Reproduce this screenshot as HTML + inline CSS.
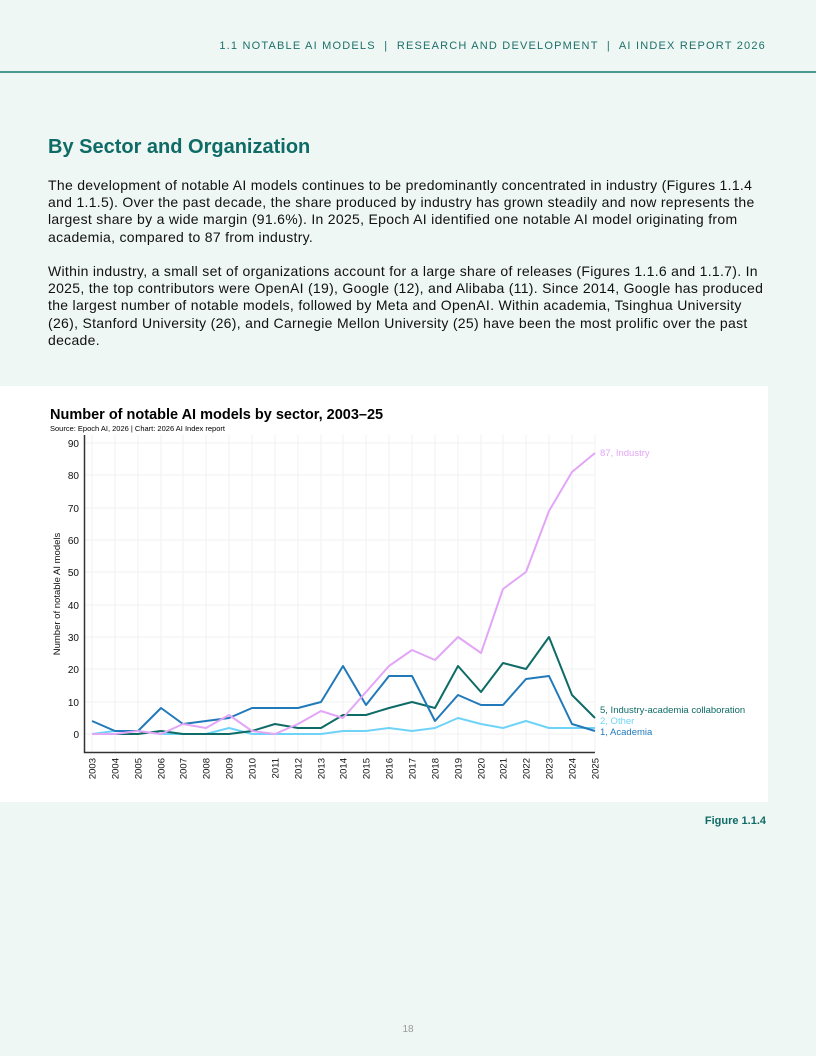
<!DOCTYPE html>
<html><head><meta charset="utf-8"><style>
body{margin:0;width:816px;height:1056px;background:#eef7f3;font-family:"Liberation Sans",sans-serif;position:relative;overflow:hidden}
.hdr{position:absolute;right:50px;top:40px;font-size:11px;letter-spacing:1.2px;color:#1e6f6a}
.line{position:absolute;left:0;top:71px;width:816px;height:2px;background:#4a9a92}
h2{position:absolute;left:48px;top:136px;margin:0;font-size:20px;color:#0f6b66;font-weight:bold}
.p{position:absolute;left:48px;font-size:14px;line-height:17.2px;color:#111;white-space:nowrap;letter-spacing:0.3px}
.panel{position:absolute;left:0;top:386px;width:768px;height:416px;background:#fff}
.fig{position:absolute;right:50px;top:815px;font-size:11px;font-weight:bold;color:#0f6b66}
.pg{position:absolute;left:0;width:816px;top:1024px;text-align:center;font-size:10px;color:#999}
</style></head><body>
<div class="hdr">1.1 NOTABLE AI MODELS &nbsp;|&nbsp; RESEARCH AND DEVELOPMENT &nbsp;|&nbsp; AI INDEX REPORT 2026</div>
<div class="line"></div>
<h2>By Sector and Organization</h2>
<div class="p" style="top:177px">The development of notable AI models continues to be predominantly concentrated in industry (Figures 1.1.4<br>and 1.1.5). Over the past decade, the share produced by industry has grown steadily and now represents the<br>largest share by a wide margin (91.6%). In 2025, Epoch AI identified one notable AI model originating from<br>academia, compared to 87 from industry.</div>
<div class="p" style="top:263px">Within industry, a small set of organizations account for a large share of releases (Figures 1.1.6 and 1.1.7). In<br>2025, the top contributors were OpenAI (19), Google (12), and Alibaba (11). Since 2014, Google has produced<br>the largest number of notable models, followed by Meta and OpenAI. Within academia, Tsinghua University<br>(26), Stanford University (26), and Carnegie Mellon University (25) have been the most prolific over the past<br>decade.</div>
<div class="panel"></div>
<svg width="816" height="1056" style="position:absolute;left:0;top:0" font-family="Liberation Sans, sans-serif">
<text x="50" y="419" font-size="14.5" font-weight="bold" fill="#000">Number of notable AI models by sector, 2003–25</text>
<text x="50" y="431" font-size="7.5" fill="#000">Source: Epoch AI, 2026 | Chart: 2026 AI Index report</text>
<g stroke="#f2f2f2" stroke-width="1">
<line x1="85" x2="595" y1="443" y2="443"/><line x1="85" x2="595" y1="475" y2="475"/><line x1="85" x2="595" y1="508" y2="508"/><line x1="85" x2="595" y1="540" y2="540"/><line x1="85" x2="595" y1="572" y2="572"/><line x1="85" x2="595" y1="605" y2="605"/><line x1="85" x2="595" y1="637" y2="637"/><line x1="85" x2="595" y1="669" y2="669"/><line x1="85" x2="595" y1="702" y2="702"/><line x1="85" x2="595" y1="734" y2="734"/>
<line x1="92" x2="92" y1="435" y2="752"/><line x1="115" x2="115" y1="435" y2="752"/><line x1="138" x2="138" y1="435" y2="752"/><line x1="161" x2="161" y1="435" y2="752"/><line x1="183" x2="183" y1="435" y2="752"/><line x1="206" x2="206" y1="435" y2="752"/><line x1="229" x2="229" y1="435" y2="752"/><line x1="252" x2="252" y1="435" y2="752"/><line x1="275" x2="275" y1="435" y2="752"/><line x1="298" x2="298" y1="435" y2="752"/><line x1="321" x2="321" y1="435" y2="752"/><line x1="343" x2="343" y1="435" y2="752"/><line x1="366" x2="366" y1="435" y2="752"/><line x1="389" x2="389" y1="435" y2="752"/><line x1="412" x2="412" y1="435" y2="752"/><line x1="435" x2="435" y1="435" y2="752"/><line x1="458" x2="458" y1="435" y2="752"/><line x1="481" x2="481" y1="435" y2="752"/><line x1="503" x2="503" y1="435" y2="752"/><line x1="526" x2="526" y1="435" y2="752"/><line x1="549" x2="549" y1="435" y2="752"/><line x1="572" x2="572" y1="435" y2="752"/><line x1="595" x2="595" y1="435" y2="752"/>
</g>
<polyline fill="none" stroke="#333" stroke-width="1.5" points="84.5,435 84.5,752.5 595,752.5"/>
<g font-size="10" fill="#111" text-anchor="end">
<text x="79" y="447">90</text><text x="79" y="479">80</text><text x="79" y="512">70</text><text x="79" y="544">60</text><text x="79" y="576">50</text><text x="79" y="609">40</text><text x="79" y="641">30</text><text x="79" y="673">20</text><text x="79" y="706">10</text><text x="79" y="738">0</text>
</g>
<text transform="translate(60,594) rotate(-90)" font-size="9.5" fill="#111" text-anchor="middle">Number of notable AI models</text>
<g font-size="9.5" fill="#111" text-anchor="end">
<text transform="translate(95.5,758) rotate(-90)">2003</text><text transform="translate(118.5,758) rotate(-90)">2004</text><text transform="translate(141.5,758) rotate(-90)">2005</text><text transform="translate(164.5,758) rotate(-90)">2006</text><text transform="translate(186.5,758) rotate(-90)">2007</text><text transform="translate(209.5,758) rotate(-90)">2008</text><text transform="translate(232.5,758) rotate(-90)">2009</text><text transform="translate(255.5,758) rotate(-90)">2010</text><text transform="translate(278.5,758) rotate(-90)">2011</text><text transform="translate(301.5,758) rotate(-90)">2012</text><text transform="translate(324.5,758) rotate(-90)">2013</text><text transform="translate(346.5,758) rotate(-90)">2014</text><text transform="translate(369.5,758) rotate(-90)">2015</text><text transform="translate(392.5,758) rotate(-90)">2016</text><text transform="translate(415.5,758) rotate(-90)">2017</text><text transform="translate(438.5,758) rotate(-90)">2018</text><text transform="translate(461.5,758) rotate(-90)">2019</text><text transform="translate(484.5,758) rotate(-90)">2020</text><text transform="translate(506.5,758) rotate(-90)">2021</text><text transform="translate(529.5,758) rotate(-90)">2022</text><text transform="translate(552.5,758) rotate(-90)">2023</text><text transform="translate(575.5,758) rotate(-90)">2024</text><text transform="translate(598.5,758) rotate(-90)">2025</text>
</g>
<g fill="none" stroke-width="2" stroke-linejoin="round">
<polyline stroke="#6fd3f8" points="92,734 115,731 138,731 161,734 183,734 206,734 229,728 252,734 275,734 298,734 321,734 343,731 366,731 389,728 412,731 435,728 458,718 481,724 503,728 526,721 549,728 572,728 595,728"/>
<polyline stroke="#0f6b66" points="92,734 115,734 138,734 161,731 183,734 206,734 229,734 252,731 275,724 298,728 321,728 343,715 366,715 389,708 412,702 435,708 458,666 481,692 503,663 526,669 549,637 572,695 595,718"/>
<polyline stroke="#2279b9" points="92,721 115,731 138,731 161,708 183,724 206,721 229,718 252,708 275,708 298,708 321,702 343,666 366,705 389,676 412,676 435,721 458,695 481,705 503,705 526,679 549,676 572,724 595,731"/>
<polyline stroke="#e3a6f7" points="92,734 115,734 138,731 161,734 183,724 206,728 229,715 252,731 275,734 298,724 321,711 343,718 366,692 389,666 412,650 435,660 458,637 481,653 503,589 526,572 549,511 572,472 595,453"/>
</g>
<g font-size="9.5">
<text x="600" y="456" fill="#e3a6f7">87, Industry</text>
<text x="600" y="713" fill="#0f6b66">5, Industry-academia collaboration</text>
<text x="600" y="724" fill="#6fd3f8">2, Other</text>
<text x="600" y="735" fill="#2279b9">1, Academia</text>
</g>
</svg>
<div class="fig">Figure 1.1.4</div>
<div class="pg">18</div>
</body></html>
